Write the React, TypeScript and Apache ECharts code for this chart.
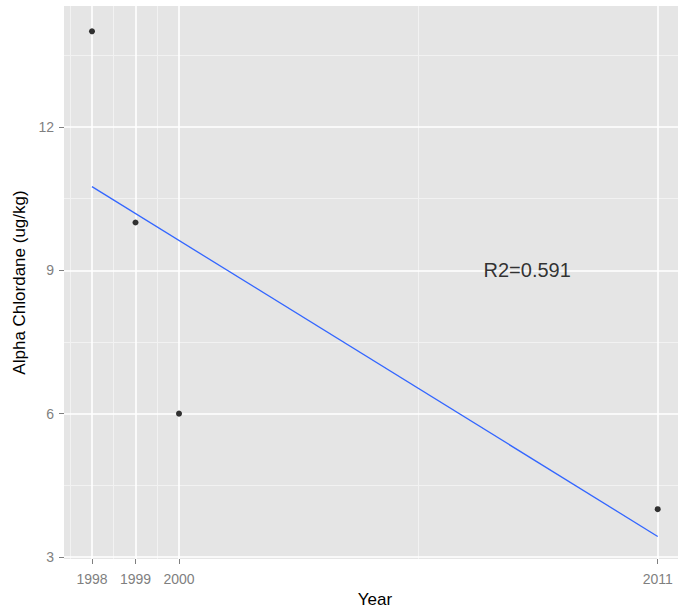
import React, { useEffect, useRef } from "react";
import * as echarts from "echarts";

// Observed points
const years = [1998, 1999, 2000, 2011];
const chlordane = [14, 10, 6, 4];

// Fitted regression line endpoints
const fitYears = [1998, 2011];
const fitValues = [10.75, 3.43];

// Axis breaks
const xBreaks = [1998, 1999, 2000, 2011];
const xMinorBreaks = [1997.5, 1998.5, 1999.5, 2005.5, 2011.5];
const yBreaks = [3, 6, 9, 12];
const yMinorBreaks = [4.5, 7.5, 10.5, 13.5];

// Annotation
const annotationX = 2008;
const annotationY = 9;
const annotationText = "R2=0.591";

const FONT = "'Liberation Sans', Arial, sans-serif";

export default function App() {
  const ref = useRef<HTMLDivElement>(null);

  useEffect(() => {
    if (!ref.current) return;
    const chart = echarts.init(ref.current, null, { renderer: "svg" });

    const minorStyle = { color: "#F2F2F2", width: 1, type: "solid" as const };
    const majorStyle = { color: "#FFFFFF", width: 1.6, type: "solid" as const };

    const gridLines = [
      ...xMinorBreaks.map((v) => ({ xAxis: v, lineStyle: minorStyle })),
      ...yMinorBreaks.map((v) => ({ yAxis: v, lineStyle: minorStyle })),
      ...xBreaks.map((v) => ({ xAxis: v, lineStyle: majorStyle })),
      ...yBreaks.map((v) => ({ yAxis: v, lineStyle: majorStyle })),
    ];

    chart.setOption({
      animation: false,
      backgroundColor: "#FFFFFF",
      grid: {
        left: 64,
        top: 6,
        width: 622,
        height: 553,
        outerBoundsMode: "none",
        containLabel: false,
        show: true,
        backgroundColor: "#E5E5E5",
        borderWidth: 0,
      },
      xAxis: {
        type: "value",
        min: 1997.357,
        max: 2011.65,
        name: "Year",
        nameLocation: "middle",
        nameGap: 32,
        nameTextStyle: { color: "#000000", fontSize: 17, fontFamily: FONT },
        axisLine: { show: false },
        splitLine: { show: false },
        axisTick: {
          show: true,
          length: 5,
          customValues: xBreaks,
          lineStyle: { color: "#7F7F7F", width: 1 },
        },
        axisLabel: {
          customValues: xBreaks,
          color: "#7F7F7F",
          fontSize: 14,
          fontFamily: FONT,
          margin: 13,
          formatter: (v: number) => String(v),
        },
      },
      yAxis: {
        type: "value",
        min: 2.958,
        max: 14.53,
        name: "Alpha Chlordane (ug/kg)",
        nameLocation: "middle",
        nameGap: 28,
        nameTextStyle: { color: "#000000", fontSize: 17, fontFamily: FONT },
        axisLine: { show: false },
        splitLine: { show: false },
        axisTick: {
          show: true,
          length: 5,
          customValues: yBreaks,
          lineStyle: { color: "#7F7F7F", width: 1 },
        },
        axisLabel: {
          customValues: yBreaks,
          color: "#7F7F7F",
          fontSize: 14,
          fontFamily: FONT,
          margin: 10,
          formatter: (v: number) => String(v),
        },
      },
      series: [
        {
          type: "line",
          data: [],
          silent: true,
          z: 0,
          markLine: {
            silent: true,
            z: 0,
            symbol: ["none", "none"],
            label: { show: false },
            animation: false,
            data: gridLines,
          },
        },
        {
          type: "line",
          data: fitYears.map((y, i) => [y, fitValues[i]]),
          showSymbol: false,
          symbol: "none",
          lineStyle: { color: "#3366FF", width: 1.3 },
          z: 6,
          silent: true,
        },
        {
          type: "scatter",
          data: years.map((y, i) => [y, chlordane[i]]),
          symbol: "circle",
          symbolSize: 6,
          itemStyle: { color: "#000000" },
          z: 7,
          silent: true,
        },
        {
          type: "scatter",
          data: [[annotationX, annotationY]],
          symbolSize: 0,
          silent: true,
          z: 8,
          label: {
            show: true,
            position: "inside",
            formatter: annotationText,
            color: "#000000",
            fontSize: 20,
            fontFamily: FONT,
          },
        },
      ],
    });

    return () => chart.dispose();
  }, []);

  return (
    <div
      ref={ref}
      style={{ position: "fixed", left: 0, top: 0, width: 678, height: 611 }}
    />
  );
}
